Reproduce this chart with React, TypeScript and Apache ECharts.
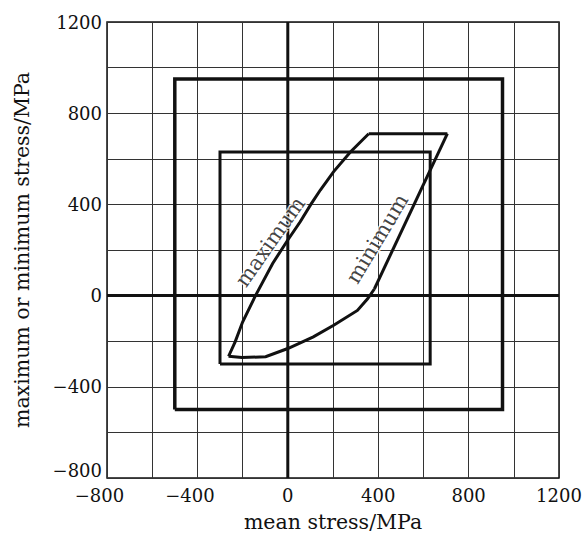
import React, { useEffect, useRef } from "react";
import * as echarts from "echarts";

// axis ranges (MPa)
const axisMin = -800;
const axisMax = 1200;
const labelStep = 400;
const gridStep = 200;

// yield boxes: [low, high] on both axes
const outerBox = [-500, 950];
const innerBox = [-300, 630];

// loop boundary (mean stress, max/min stress)
const maximumCurve = [
  [358, 710], [277, 630], [203, 544], [144, 463], [102, 400], [55, 324],
  [0, 244], [-67, 141], [-143, 0], [-200, -116], [-233, -203], [-262, -266],
];
const bottomCurve = [
  [-262, -266], [-203, -272], [-98, -268], [0, -232], [113, -181],
  [203, -130], [308, -65], [353, -14], [383, 29],
];
const minimumLine = [[383, 29], [706, 710]];
const topLine = [[358, 710], [706, 710]];

// curve labels: [x, y, text, rotate]
const curveLabels: [number, number, string, number][] = [
  [-78, 236, "maximum", 55],
  [396, 249, "minimum", 59],
];

const xName = "mean stress/MPa";
const yName = "maximum or minimum stress/MPa";

const FONT = "DejaVu Serif";
const INK = "#111";

function box(b: number[]) {
  const [lo, hi] = b;
  return [[lo, lo], [hi, lo], [hi, hi], [lo, hi], [lo, lo]];
}

function fmtLabel(v: number) {
  if (v < 0) return "{n|\u2212" + Math.abs(v) + "}";
  return String(v);
}

export default function App() {
  const ref = useRef<HTMLDivElement>(null);
  useEffect(() => {
    document.body.style.margin = "0";
    const chart = echarts.init(ref.current!, null, { renderer: "svg" });
    const lineSeries = (data: number[][], width: number) => ({
      type: "line",
      data,
      symbol: "none",
      silent: true,
      lineStyle: { color: INK, width, join: "miter" },
      z: 3,
    });
    const splitStyle = { color: "#333", width: 1 };
    const axisCommon = {
      type: "value",
      min: axisMin,
      max: axisMax,
      interval: labelStep,
      axisLine: { show: false, onZero: false },
      axisTick: { show: false },
      minorTick: { show: false, splitNumber: labelStep / gridStep },
      splitLine: { show: true, lineStyle: splitStyle },
      minorSplitLine: { show: true, lineStyle: splitStyle },
      nameLocation: "middle",
      nameTextStyle: { fontFamily: FONT, fontSize: 20.5, color: INK },
    };
    chart.setOption({
      animation: false,
      backgroundColor: "#fff",
      grid: {
        left: 107, right: 26, top: 22, bottom: 59,
        show: true, borderColor: INK, borderWidth: 1.5,
      },
      xAxis: {
        ...axisCommon,
        name: xName,
        nameGap: 33,
        axisLabel: {
          fontFamily: FONT, fontSize: 18, color: INK, margin: 8,
          formatter: fmtLabel,
          rich: { n: { fontFamily: FONT, fontSize: 18, color: INK, padding: [0, 15, 0, 0] } },
        },
      },
      yAxis: {
        ...axisCommon,
        name: yName,
        nameGap: 75,
        axisLabel: {
          fontFamily: FONT, fontSize: 18, color: INK, margin: 5,
          formatter: (v: number) =>
            v === axisMin ? "{b|\u2212" + Math.abs(v) + "}" : v < 0 ? "\u2212" + Math.abs(v) : String(v),
          rich: { b: { fontFamily: FONT, fontSize: 18, color: INK, padding: [0, 0, 16, 0] } },
        },
      },
      series: [
        lineSeries([[axisMin, 0], [axisMax, 0]], 3),
        lineSeries([[0, axisMin], [0, axisMax]], 3),
        lineSeries(box(outerBox), 3.5),
        lineSeries(box(innerBox), 3),
        lineSeries(maximumCurve, 3),
        lineSeries(bottomCurve, 3),
        lineSeries(minimumLine, 3),
        lineSeries(topLine, 3),
        ...curveLabels.map(([x, y, t, r]) => ({
          type: "scatter",
          data: [[x, y]],
          symbolSize: 0,
          silent: true,
          z: 5,
          label: {
            show: true,
            position: "inside",
            formatter: t,
            rotate: r,
            fontFamily: FONT,
            fontSize: 21,
            color: INK,
            textBorderColor: "#fff",
            textBorderWidth: 3,
          },
        })),
      ],
    });
    return () => chart.dispose();
  }, []);
  return <div ref={ref} style={{ width: 585, height: 537 }} />;
}
